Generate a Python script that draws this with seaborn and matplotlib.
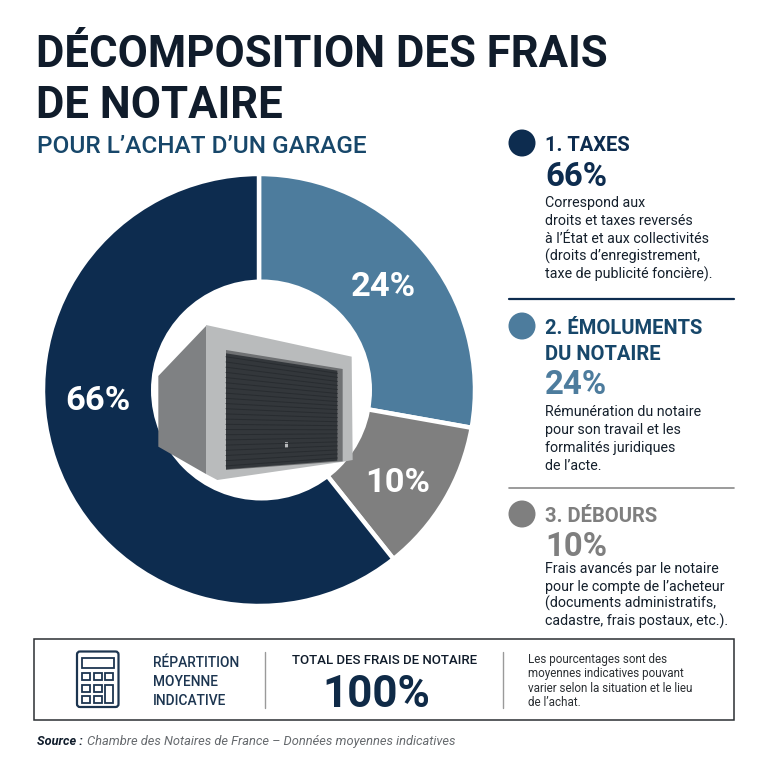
import numpy as np
import matplotlib
matplotlib.use('Agg')
import matplotlib.pyplot as plt
import seaborn as sns
from matplotlib.patches import Circle, FancyBboxPatch, Polygon, Rectangle

# Values printed on the chart
categories = ['Taxes', 'Émoluments du notaire', 'Débours']
printed_pct = [66, 24, 10]
total_pct = 100
# The slices in the picture are not drawn to the printed values, these are the measured shares
drawn_share = [60.7, 27.8, 11.5]

title_lines = ['DÉCOMPOSITION DES FRAIS', 'DE NOTAIRE']
subtitle = 'POUR L’ACHAT D’UN GARAGE'
body_taxes = ['Correspond aux', 'droits et taxes reversés', 'à l’État et aux collectivités',
              '(droits d’enregistrement,', 'taxe de publicité foncière).']
body_emol = ['Rémunération du notaire', 'pour son travail et les', 'formalités juridiques', 'de l’acte.']
body_deb = ['Frais avancés par le notaire', 'pour le compte de l’acheteur',
            '(documents administratifs,', 'cadastre, frais postaux, etc.).']
box_left = ['RÉPARTITION', 'MOYENNE', 'INDICATIVE']
box_right = ['Les pourcentages sont des', 'moyennes indicatives pouvant',
             'varier selon la situation et le lieu', 'de l’achat.']

NAVY, BLUE, GREY = '#0d2c4f', '#4d7c9d', '#7f7f7f'
TEAL = '#17476a'
INK = '#101c2b'

sns.set_theme(style='white')
plt.rcParams['font.family'] = ['Roboto', 'DejaVu Sans']
palette = sns.color_palette([NAVY, BLUE, GREY])

S = 768
fig = plt.figure(figsize=(7.68, 7.68), dpi=100, facecolor='white')


def px_axes(x0, y0, x1, y1):
    return fig.add_axes([x0 / S, 1 - y1 / S, (x1 - x0) / S, (y1 - y0) / S])


# donut, pie goes clockwise from 12 o'clock: blue, grey, navy
cx, cy, r = 259, 390, 216
pie_ax = px_axes(cx - r, cy - r, cx + r, cy + r)
pie_ax.pie(drawn_share[1:] + drawn_share[:1], colors=[palette[1], palette[2], palette[0]],
           startangle=90, counterclock=False, radius=1,
           wedgeprops=dict(edgecolor='white', linewidth=3.2))
pie_ax.set_xlim(-1, 1)
pie_ax.set_ylim(-1, 1)

# overlay in picture pixels for everything else
ax = px_axes(0, 0, S, S)
ax.set_xlim(0, S)
ax.set_ylim(S, 0)
ax.axis('off')
ax.patch.set_alpha(0)


def put(x, y, s, px, color=INK, weight='normal', ha='left', style='normal'):
    return ax.text(x, y, s, fontsize=px * 0.72, color=color, fontweight=weight,
                   ha=ha, va='baseline', fontstyle=style)


ax.add_patch(Circle((261.5, 390), 110.5, fc='white', ec='none'))


# garage illustration, zoom coordinates converted by g
def g(points):
    return [(130 + a / 3, 300 + b / 3) for a, b in points]


ax.add_patch(Polygon(g([(85, 228), (228, 78), (228, 522), (85, 440)]), fc='#7f8183', ec='none'))
ax.add_patch(Polygon(g([(228, 75), (665, 170), (668, 480), (640, 485), (262, 540), (228, 522)]),
                     fc='#b9bbbc', ec='none'))
ax.add_patch(Polygon(g([(288, 150), (638, 207), (638, 484), (288, 510)]), fc='#6f7173', ec='none'))
ax.add_patch(Polygon(g([(288, 160), (622, 212), (622, 482), (288, 508)]), fc='#33373b', ec='none'))
for t in np.linspace(0.03, 0.97, 22):
    y_l, y_r = 160 + t * 348, 212 + t * 270
    ax.plot(*zip(*g([(288, y_l), (622, y_r)])), color='#282c30', lw=0.7)
ax.add_patch(Polygon(g([(465, 426), (475, 426), (475, 444), (465, 444)]), fc='#b9bbbd', ec='none'))

# slice labels
put(98, 410, f'{printed_pct[0]}%', 34.5, 'white', 'bold', 'center')
put(383, 296, f'{printed_pct[1]}%', 34.5, 'white', 'bold', 'center')
put(398, 492, f'{printed_pct[2]}%', 34.5, 'white', 'bold', 'center')

# heading
put(36, 67, title_lines[0], 43.8, INK, 'bold')
put(36, 118, title_lines[1], 43.8, INK, 'bold')
put(37, 153, subtitle, 24.4, TEAL, 'medium')


def legend_block(cy_, color, head, head_color, head_base, pct, pct_base, body, body_base, step):
    ax.add_patch(Circle((522, cy_), 13.5, fc=color, ec='none'))
    for i, line in enumerate(head):
        put(545, head_base + i * 26, line, 20.2, head_color, 'bold')
    put(545, pct_base, f'{pct}%', 33, color, 'bold')
    for i, line in enumerate(body):
        put(545, body_base + i * step, line, 14.3, '#15202c')


legend_block(143, NAVY, ['1. TAXES'], NAVY, 151, printed_pct[0], 186, body_taxes, 207, 18)
ax.plot([509, 734], [299, 299], color=NAVY, lw=1.6)
legend_block(326, BLUE, ['2. ÉMOLUMENTS', 'DU NOTAIRE'], TEAL, 334, printed_pct[1], 394, body_emol, 416, 18)
ax.plot([509, 734], [488, 488], color='#8a8a8a', lw=1.2)
legend_block(514, GREY, ['3. DÉBOURS'], GREY, 522, printed_pct[2], 556, body_deb, 573, 17.5)

# bottom box
ax.add_patch(Rectangle((34, 639), 700, 81, fc='white', ec='#2b2f33', lw=1.1))
ax.plot([265, 265], [652, 708], color='#9a9a9a', lw=1)
ax.plot([503, 503], [652, 708], color='#9a9a9a', lw=1)

# calculator icon
icon = '#1c3550'
ax.add_patch(FancyBboxPatch((77, 651.5), 41.5, 55.5, boxstyle='round,pad=0,rounding_size=3',
                            fc='none', ec=icon, lw=1.6))
ax.add_patch(Rectangle((82, 657.5), 31.5, 10, fc='none', ec=icon, lw=1.3))
for bx in (82, 93.5, 105):
    ax.add_patch(Rectangle((bx, 672.5), 8, 7.5, fc='none', ec=icon, lw=1.3))
for bx in (82, 93.5):
    for by in (684.5, 696):
        ax.add_patch(Rectangle((bx, by), 8, 7, fc='none', ec=icon, lw=1.3))
ax.add_patch(Rectangle((105, 684.5), 8, 18.5, fc='none', ec=icon, lw=1.3))

for i, line in enumerate(box_left):
    put(153, 667 + i * 19, line, 13.8, '#1c3550', 'medium')
put(385, 664, 'TOTAL DES FRAIS DE NOTAIRE', 13.3, INK, 'medium', 'center')
put(376, 707, f'{total_pct}%', 44, '#0f2a47', 'bold', 'center')
for i, line in enumerate(box_right):
    put(528, 663 + i * 14.5, line, 11.6, '#2b2f33')

# source
put(37, 745, 'Source :', 12.7, INK, 'bold', style='italic')
put(87, 745, 'Chambre des Notaires de France – Données moyennes indicatives', 12.9, '#666a6e', style='italic')

fig.savefig('out.png', dpi=100, facecolor='white')
